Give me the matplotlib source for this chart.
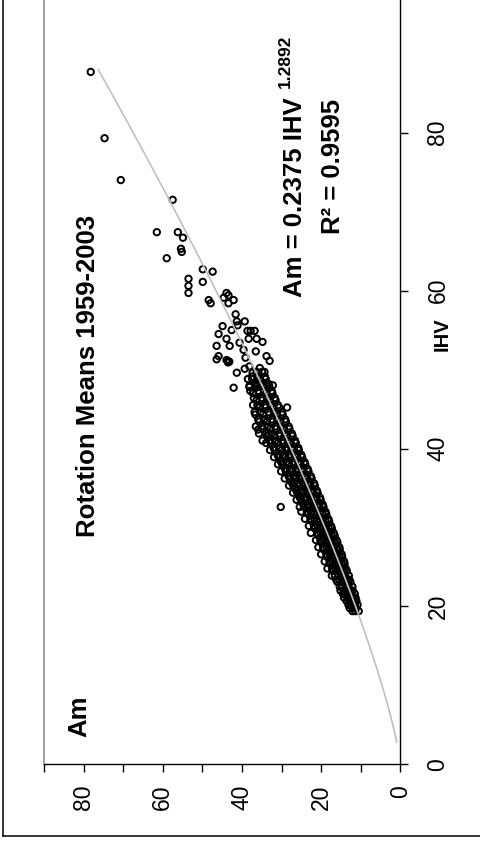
import numpy as np
import matplotlib
matplotlib.use("Agg")
import matplotlib.pyplot as plt
from matplotlib.lines import Line2D

plt.rcParams['font.family'] = ['Liberation Sans', 'DejaVu Sans']

# fitted power curve shown on the chart: Am = a * IHV ^ b
fit_a = 0.2375
fit_b = 1.2892
fit_start = 2.8
fit_end = 88.0

# isolated points (IHV, Am)
outlier_points = [
    (87.7, 78.2), (79.3, 74.7), (74.0, 70.6), (71.5, 57.5), (67.4, 61.5),
    (67.4, 56.2), (66.7, 54.9), (65.3, 55.4), (64.9, 55.2), (64.1, 59.0),
    (62.7, 49.9), (62.4, 47.4), (61.5, 53.5), (60.6, 53.5), (59.7, 53.5),
    (61.1, 49.9), (58.8, 48.4), (58.4, 47.9), (59.7, 43.9), (59.1, 44.6),
    (58.4, 43.4), (58.8, 42.1), (59.4, 43.4), (57.0, 41.6), (56.1, 41.3),
    (56.1, 39.3), (55.5, 44.9), (55.0, 42.6), (55.6, 41.1), (54.5, 45.9),
    (54.9, 38.6), (54.9, 37.8), (54.9, 36.8), (53.9, 38.3), (53.9, 36.3),
    (53.5, 34.8), (53.9, 43.9), (53.0, 43.1), (53.0, 46.4), (53.4, 40.6),
    (52.5, 39.6), (52.3, 36.5), (51.7, 45.9), (51.3, 46.4), (51.1, 43.6),
    (51.0, 43.2), (51.2, 43.9), (50.9, 43.5), (51.7, 33.8), (51.1, 33.0),
    (51.5, 39.1), (50.4, 38.1), (49.6, 41.3), (50.1, 39.3), (49.6, 37.3),
    (50.2, 35.5), (49.7, 34.3), (48.0, 32.2), (47.7, 42.1), (47.8, 38.1),
    (48.3, 36.1), (48.3, 33.8), (45.2, 28.6), (42.4, 35.9), (41.7, 33.2),
    (32.6, 30.2), (29.3, 22.6),
]

# main band of rotations: (IHV, [Am values at that IHV])
band_rows = [
    (19.4, [10.5, 11.4, 12.1]),
    (19.8, [11.2, 11.9, 12.8]),
    (20.2, [10.8, 11.5, 12.4, 13.1]),
    (20.7, [11.1, 12.0, 12.6, 13.6]),
    (21.1, [11.3, 11.9, 12.8, 13.4, 14.2]),
    (21.6, [11.5, 12.5, 13.0, 14.0, 14.5]),
    (22.0, [12.0, 12.7, 13.6, 14.1, 15.1]),
    (22.5, [12.1, 13.1, 13.7, 14.7, 15.3]),
    (23.1, [12.6, 13.3, 14.2, 14.8, 15.9]),
    (23.4, [12.9, 13.5, 14.5, 15.4, 16.2]),
    (23.9, [13.0, 14.0, 14.6, 15.7, 16.5, 17.3]),
    (24.5, [13.5, 14.2, 15.2, 15.9, 17.1]),
    (24.8, [13.8, 14.7, 15.3, 16.4, 17.2, 18.4]),
    (25.4, [14.1, 14.8, 15.9, 16.6, 17.8]),
    (25.7, [14.2, 15.3, 16.0, 17.1, 17.9, 19.1]),
    (26.3, [14.7, 15.4, 16.5, 17.3, 18.5]),
    (26.6, [14.8, 15.9, 16.7, 17.8, 18.7, 20.0]),
    (27.2, [15.3, 16.0, 17.2, 18.0, 19.3]),
    (27.5, [15.4, 16.6, 17.3, 18.6, 19.5, 20.7]),
    (28.1, [15.9, 16.7, 17.9, 18.7, 20.0]),
    (28.4, [16.1, 17.3, 18.1, 19.3, 20.2, 21.3]),
    (29.0, [16.6, 17.4, 18.6, 19.5, 20.8]),
    (29.3, [16.8, 18.0, 18.8, 20.1, 21.0]),
    (29.9, [17.3, 18.1, 19.4, 20.3, 21.6]),
    (30.2, [17.5, 18.7, 19.6, 20.9, 21.8, 23.1]),
    (30.8, [18.0, 18.9, 20.2, 21.1, 22.4]),
    (31.1, [18.2, 19.5, 20.4, 21.7, 22.7, 24.1]),
    (31.7, [18.7, 19.6, 21.0, 21.9, 23.3]),
    (32.0, [18.9, 20.2, 21.2, 22.6, 23.6, 25.0]),
    (32.6, [19.4, 20.4, 21.8, 22.8, 24.2, 25.4]),
    (32.9, [19.6, 21.0, 22.0, 23.4, 24.5]),
    (33.5, [20.1, 21.1, 22.6, 23.6, 25.1, 26.2]),
    (33.8, [20.3, 21.8, 22.8, 24.3, 25.4]),
    (34.4, [20.9, 21.9, 23.4, 24.5, 26.0, 27.1]),
    (34.7, [21.1, 22.6, 23.7, 25.2, 26.3]),
    (35.3, [21.6, 22.7, 24.2, 25.4, 27.0, 28.1]),
    (35.6, [21.8, 23.4, 24.5, 26.1, 27.3]),
    (36.2, [22.4, 23.5, 25.1, 26.3, 27.9, 29.2]),
    (36.5, [22.6, 24.2, 25.4, 27.0, 28.2]),
    (37.1, [23.2, 24.4, 26.0, 27.2, 28.9, 30.1]),
    (37.4, [23.4, 25.0, 26.2, 27.9, 29.1]),
    (38.0, [24.0, 25.2, 26.8, 28.1, 29.8, 30.9]),
    (38.3, [24.2, 25.8, 27.1, 28.8, 30.1]),
    (38.9, [24.8, 26.0, 27.7, 29.0, 30.7, 31.9]),
    (39.2, [25.0, 26.7, 28.0, 29.7, 31.0]),
    (39.8, [25.6, 26.9, 28.6, 29.9, 31.7, 32.9]),
    (40.1, [25.8, 27.5, 28.9, 30.6, 32.0]),
    (40.7, [26.4, 27.7, 29.5, 30.9, 32.7, 33.9]),
    (41.0, [26.6, 28.4, 29.8, 31.6, 33.0, 34.8]),
    (41.6, [27.2, 28.6, 30.4, 31.8, 33.7]),
    (41.9, [27.4, 29.2, 30.6, 32.5, 34.0, 35.7]),
    (42.5, [28.0, 29.4, 31.3, 32.8, 34.7]),
    (42.8, [28.2, 30.1, 31.6, 33.5, 35.0, 36.5]),
    (43.4, [28.9, 30.3, 32.2, 33.7, 35.6]),
    (43.7, [29.1, 31.0, 32.5, 34.4, 35.9]),
    (44.3, [29.7, 31.2, 33.1, 34.7, 36.6]),
    (44.6, [29.9, 31.8, 33.3, 35.3, 36.8]),
    (45.2, [30.6, 32.1, 34.0, 35.5]),
    (45.5, [30.9, 32.7, 34.2, 36.1, 37.2]),
    (46.1, [31.5, 33.0, 34.9, 36.3]),
    (46.4, [31.7, 33.6, 35.1, 37.0]),
    (47.0, [32.3, 33.8, 35.7, 37.2]),
    (47.3, [32.5, 34.4, 35.9, 37.9]),
    (47.9, [33.1, 34.7, 36.5, 38.1]),
    (48.2, [33.3, 35.3, 36.8]),
    (48.8, [34.0, 35.5, 37.4, 38.5]),
    (49.1, [34.2, 36.1, 37.5]),
    (49.7, [34.9, 36.3]),
]

am_ticks = [0, 10, 20, 30, 40, 50, 60, 70, 80, 90]
am_ticklabels = ['0', '', '20', '', '40', '', '60', '', '80', '']
ihv_ticks = [0, 20, 40, 60, 80]

# flatten the data
ihv_vals = [p[0] for p in outlier_points]
am_vals = [p[1] for p in outlier_points]
for ihv, ams in band_rows:
    for a in ams:
        ihv_vals.append(ihv)
        am_vals.append(a)

W, H = 481, 841


def fx(x):
    return x / W


def fy(y):
    return 1 - y / H


fig = plt.figure(figsize=(W / 100, H / 100), dpi=100)
ax = fig.add_axes([fx(44), fy(764.3), (400.3 - 44) / W, 764.3 / H])

# chart is turned on its side: Am runs right-to-left, IHV runs upward
ax.scatter(am_vals, ihv_vals, s=21, facecolors='none', edgecolors='black',
           linewidths=1.4, zorder=2, clip_on=False)

trend_ihv = np.linspace(fit_start, fit_end, 200)
trend_am = fit_a * trend_ihv ** fit_b
ax.plot(trend_am, trend_ihv, color='#c0c0c0', lw=1.2, zorder=3)

ax.set_xlim(90, 0)
ax.set_ylim(0, 764.3 / 7.895)

ax.set_xticks(am_ticks)
ax.set_xticklabels(am_ticklabels)
ax.set_yticks(ihv_ticks)
ax.yaxis.tick_right()

ax.tick_params(axis='x', direction='out', length=5.8, width=1.0, pad=9,
               labelsize=16.5, labelrotation=90)
ax.tick_params(axis='y', direction='out', length=5.8, width=1.0, pad=13,
               labelsize=16.5, labelrotation=90)
for lbl in ax.get_yticklabels():
    lbl.set_va('center')
    lbl.set_ha('left')

ax.spines['top'].set_visible(False)
ax.spines['left'].set_color('#868686')
ax.spines['left'].set_linewidth(1.1)
ax.spines['bottom'].set_linewidth(1.0)
ax.spines['right'].set_linewidth(1.0)

# texts (all rotated with the chart)
fig.text(fx(88.2), fy(376), 'Rotation Means 1959-2003', rotation=90,
         ha='center', va='center', fontsize=18.5, fontweight='bold')
fig.text(fx(79.5), fy(716), 'Am', rotation=90, ha='center', va='center',
         fontsize=18.5, fontweight='bold')
fig.text(fx(442), fy(334), 'IHV', rotation=90, ha='center', va='center',
         fontsize=14.5, fontweight='bold')
fig.text(fx(295), fy(197.5), 'Am = %.4f IHV' % fit_a, rotation=90,
         ha='center', va='center', fontsize=18.5, fontweight='bold')
fig.text(fx(285.3), fy(61), '%.4f' % fit_b, rotation=90,
         ha='center', va='center', fontsize=12.5, fontweight='bold')
fig.text(fx(333), fy(166.5), 'R\u00b2 = 0.9595', rotation=90,
         ha='center', va='center', fontsize=18.5, fontweight='bold')

# outer chart border (only left and bottom edges fall inside the picture)
fig.add_artist(Line2D([fx(3.3), fx(3.3)], [1, fy(835.5)], color='black', lw=1.1))
fig.add_artist(Line2D([fx(3.3), 1], [fy(835.5), fy(835.5)], color='black', lw=1.1))

fig.savefig('out.png', dpi=100)
